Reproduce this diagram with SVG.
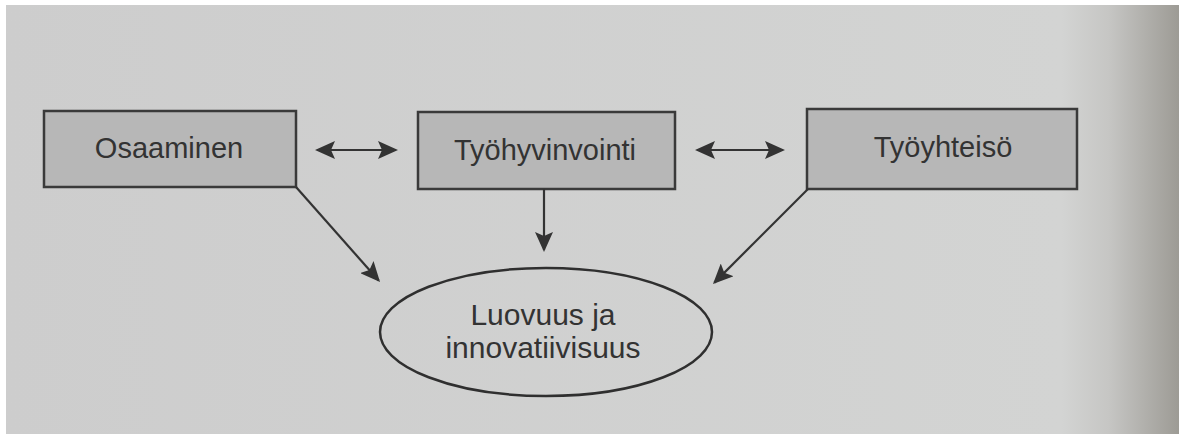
<svg xmlns="http://www.w3.org/2000/svg" width="1186" height="435" viewBox="0 0 1186 435">
  <defs>
    <linearGradient id="page" x1="0" y1="0" x2="1" y2="0">
      <stop offset="0" stop-color="#cdcdcd"/>
      <stop offset="0.9" stop-color="#d3d4d3"/>
      <stop offset="0.94" stop-color="#c6c6c4"/>
      <stop offset="1" stop-color="#9d9b95"/>
    </linearGradient>
    <marker id="ah" viewBox="0 0 20 18" refX="18" refY="9" markerWidth="20" markerHeight="18" markerUnits="userSpaceOnUse" orient="auto-start-reverse">
      <path d="M0,0 L20,9 L0,18 L4,9 Z" fill="#333"/>
    </marker>
  </defs>
  <style>
    .box { fill: #b7b7b7; stroke: #3a3a3a; stroke-width: 2.5; }
    .oval { fill: none; stroke: #2f2f2f; stroke-width: 2.5; }
    .lbl { font-family: "Liberation Sans", Arial, sans-serif; font-size: 29px; fill: #333; text-anchor: middle; }
    .big { font-size: 30px; }
    .con { stroke: #333; stroke-width: 2.2; fill: none; marker-end: url(#ah); }
    .both { marker-start: url(#ah); }
  </style>
  <rect x="0" y="0" width="1186" height="435" fill="#ffffff"/>
  <rect x="6" y="5" width="1173" height="429" fill="url(#page)"/>

  <g id="osaaminen">
    <rect class="box" x="44" y="111" width="252" height="76"/>
    <text class="lbl" x="169" y="158">Osaaminen</text>
  </g>
  <g id="tyohyvinvointi">
    <rect class="box" x="418" y="112" width="257" height="77"/>
    <text class="lbl" x="545" y="160">Työhyvinvointi</text>
  </g>
  <g id="tyoyhteiso">
    <rect class="box" x="807" y="109" width="270" height="80"/>
    <text class="lbl" x="943" y="157">Työyhteisö</text>
  </g>
  <g id="luovuus">
    <ellipse class="oval" cx="546" cy="332" rx="166" ry="64"/>
    <text class="lbl big" x="543" y="325">Luovuus ja</text>
    <text class="lbl big" x="543" y="358">innovatiivisuus</text>
  </g>

  <g id="connectors">
    <line class="con both" x1="317" y1="150" x2="396" y2="150"/>
    <line class="con both" x1="697" y1="150" x2="783" y2="150"/>
    <line class="con" x1="544" y1="189" x2="544" y2="250"/>
    <line class="con" x1="296" y1="187" x2="378.7" y2="280.5"/>
    <line class="con" x1="808" y1="189" x2="714.4" y2="282.6"/>
  </g>
</svg>
